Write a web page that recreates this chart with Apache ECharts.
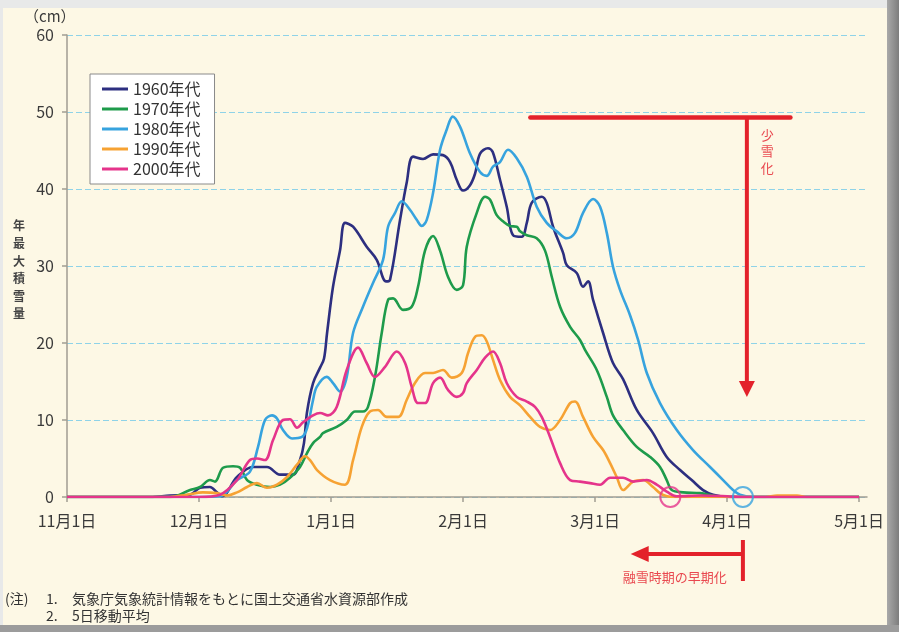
<!DOCTYPE html>
<html><head><meta charset="utf-8">
<script src="https://cdn.jsdelivr.net/npm/echarts@6/dist/echarts.min.js"></script>
<style>
html,body{margin:0;padding:0;background:#e8e8e8}
#wrap{position:relative;width:899px;height:632px;background:#e8e9e9;overflow:hidden}
#rb{position:absolute;right:0;top:0;width:12px;height:632px;background:linear-gradient(to right,#a9a9a9,#7d7d7d)}
#bb{position:absolute;left:0;bottom:0;width:899px;height:7px;background:#9c9c9c}
#panel{position:absolute;left:3px;top:8px;width:884px;height:617px;background:#fdf8e5}
#c{position:absolute;left:0;top:0;width:899px;height:632px}
</style>
</head><body>
<div id="wrap"><div id="rb"></div><div id="bb"></div><div id="panel"></div><div id="c"></div></div>
<script>
// x values: months after 11月1日 (0 = 11/1, 1 = 12/1, ... 6 = 5/1)
const monthLabels = ['11月1日','12月1日','1月1日','2月1日','3月1日','4月1日','5月1日'];
const monthTicks = [0,1,2,3,4,5,6];
const yTicks = [0,10,20,30,40,50,60];
const seriesNames = ['1960年代','1970年代','1980年代','1990年代','2000年代'];
const seriesColors = ['#2d2f80','#1e9b4b','#37a3de','#f6a233','#e5348b'];

const d1960 = [[0,0],[0.629,0],[0.78,0.2],[0.932,0.3],[1.008,1.2],[1.083,1.3],[1.136,0.6],[1.174,0.1],[1.288,2.6],[1.409,3.9],[1.515,3.9],[1.614,2.9],[1.712,2.9],[1.765,4.8],[1.795,7],[1.818,11],[1.864,14.8],[1.917,16.8],[1.947,18],[1.970,21.3],[2.015,27.3],[2.068,32],[2.106,35.6],[2.167,35.1],[2.270,32.5],[2.346,30.8],[2.417,28],[2.447,28.2],[2.523,36],[2.573,40.8],[2.621,44.2],[2.697,43.9],[2.773,44.5],[2.848,44.4],[2.902,43.5],[2.952,41.2],[3.0,39.8],[3.053,40.5],[3.091,42],[3.129,44.6],[3.189,45.3],[3.225,44.8],[3.280,41.2],[3.331,37.7],[3.379,34],[3.445,33.8],[3.483,35.6],[3.520,38.2],[3.596,39],[3.634,38.2],[3.682,35.1],[3.758,31.7],[3.786,30.1],[3.861,29.1],[3.909,27.3],[3.947,28],[3.985,25.6],[4.061,21.3],[4.136,17.4],[4.212,15.3],[4.316,11.3],[4.439,8.3],[4.543,5.2],[4.644,3.5],[4.732,2.2],[4.818,0.9],[4.894,0.3],[5.023,0],[6,0]];
const d1970 = [[0,0],[0.78,0],[0.932,0.9],[1.008,1.3],[1.083,2.2],[1.121,2.0],[1.182,3.8],[1.258,4.0],[1.311,3.8],[1.364,2.2],[1.439,1.6],[1.538,1.3],[1.614,1.6],[1.689,2.5],[1.765,3.9],[1.818,5.7],[1.864,7.0],[1.917,7.8],[1.939,8.3],[2.043,9.1],[2.119,10],[2.182,11.1],[2.242,11.1],[2.280,11.7],[2.333,15.6],[2.384,21.3],[2.432,25.6],[2.470,25.8],[2.545,24.3],[2.611,24.7],[2.659,27.3],[2.712,32],[2.773,33.9],[2.826,32],[2.886,28.6],[2.952,26.9],[3.0,27.5],[3.028,32.5],[3.104,36.9],[3.167,39],[3.205,38.6],[3.255,36.6],[3.303,35.8],[3.356,35.2],[3.407,35.1],[3.432,34.5],[3.483,34],[3.558,33.6],[3.621,32],[3.672,28.6],[3.735,24.7],[3.811,22.1],[3.886,20.4],[3.924,19.1],[4.013,16.5],[4.089,13],[4.136,10.6],[4.212,8.7],[4.316,6.5],[4.417,5.2],[4.492,3.9],[4.543,2.2],[4.581,0.9],[4.667,0.6],[4.795,0.5],[4.922,0.1],[5.023,0],[6,0]];
const d1980 = [[0,0],[1.0,0],[1.159,0.1],[1.288,2.2],[1.386,3.3],[1.447,6.5],[1.5,10],[1.553,10.6],[1.591,10.2],[1.636,8.7],[1.705,7.6],[1.780,7.8],[1.818,8.9],[1.864,12.6],[1.892,14.3],[1.967,15.6],[2.015,14.8],[2.068,13.7],[2.119,15.6],[2.167,21.3],[2.242,24.7],[2.318,27.8],[2.394,30.8],[2.432,35.1],[2.485,36.9],[2.536,38.4],[2.598,37.3],[2.649,36],[2.687,35.2],[2.725,36],[2.773,39.5],[2.826,45.1],[2.876,47.7],[2.922,49.4],[2.977,48.1],[3.053,44.6],[3.129,42.2],[3.180,41.7],[3.227,42.9],[3.280,43.5],[3.341,45.1],[3.407,44],[3.483,41.6],[3.558,37.7],[3.634,35.6],[3.710,34.5],[3.786,33.6],[3.848,34.3],[3.909,36.9],[3.985,38.7],[4.038,37.7],[4.089,34.3],[4.136,29.9],[4.189,26.9],[4.265,23.6],[4.326,20.4],[4.392,16.1],[4.492,12.2],[4.619,8.7],[4.742,6.1],[4.871,3.9],[4.970,2.2],[5.045,0.9],[5.098,0.3],[5.2,0],[6,0]];
const d1990 = [[0,0],[0.78,0],[0.909,0.3],[1.030,0.6],[1.136,0.5],[1.212,0.2],[1.288,0.6],[1.364,1.3],[1.439,1.8],[1.515,1.2],[1.591,1.6],[1.667,2.6],[1.742,4.2],[1.803,5.3],[1.841,4.8],[1.894,3.5],[1.992,2.2],[2.106,1.6],[2.167,4.8],[2.233,9.1],[2.295,11.1],[2.356,11.3],[2.422,10.4],[2.508,10.4],[2.573,12.6],[2.636,14.8],[2.712,16.1],[2.773,16.1],[2.848,16.5],[2.914,15.5],[2.990,16.1],[3.038,18.7],[3.091,20.8],[3.142,21],[3.180,20.2],[3.227,17.8],[3.280,15.2],[3.356,13],[3.432,11.9],[3.508,10.4],[3.583,9.1],[3.659,8.7],[3.735,10],[3.811,12.2],[3.848,12.4],[3.909,10.4],[3.985,7.8],[4.061,6.1],[4.114,4.4],[4.164,2.6],[4.212,0.9],[4.288,2.0],[4.364,2.2],[4.439,1.3],[4.492,0.5],[4.545,0.1],[4.6,0],[5.288,0],[5.379,0.2],[5.530,0.2],[5.6,0],[6,0]];
const d2000 = [[0,0],[1.0,0],[1.159,0.3],[1.288,2.2],[1.386,4.8],[1.439,5.0],[1.5,4.8],[1.561,7.4],[1.636,10],[1.689,10.1],[1.742,9.0],[1.788,9.7],[1.864,10.6],[1.917,10.9],[1.977,10.6],[2.043,11.7],[2.119,16.5],[2.205,19.4],[2.270,17.4],[2.333,15.6],[2.409,16.9],[2.498,18.9],[2.561,17.4],[2.611,14.3],[2.659,12.2],[2.712,12.2],[2.773,14.8],[2.826,15.5],[2.886,13.9],[2.952,13],[3.0,13.5],[3.028,14.8],[3.104,16.5],[3.167,18.1],[3.227,18.9],[3.280,17.4],[3.331,14.8],[3.407,13],[3.483,12.4],[3.545,11.7],[3.596,10.4],[3.659,7.8],[3.735,4.4],[3.811,2.2],[3.886,2.0],[3.962,1.8],[4.038,1.6],[4.114,2.5],[4.212,2.5],[4.288,2.0],[4.392,2.2],[4.467,1.6],[4.543,0.7],[4.619,0.1],[4.8,0.2],[5.0,0.1],[5.1,0],[6,0]];
const seriesData = [d1960,d1970,d1980,d1990,d2000];

// end-of-snow markers (circles on the axis) : 2000年代 and 1980年代
const meltEnds = [[4.57,0],[5.12,0]];
const meltColors = ['#e5348b','#37a3de'];

// annotation anchors (in data units)
const lessSnowLevel = 49.3, lessSnowFrom = 3.51, lessSnowTo = 5.48, lessSnowX = 5.15, lessSnowArrowTo = 13;
const earlyMeltFrom = 5.12, earlyMeltTo = 4.27;

const FONT = '"Noto Sans CJK JP","Noto Sans",sans-serif';
const RED = '#e3222b', RED_T = '#e9484f';

const chart = echarts.init(document.getElementById('c'), null, {renderer:'canvas'});
const series = seriesNames.map((n,i)=>({
  name:n, type:'line', data:seriesData[i], smooth:0.35, showSymbol:false, symbol:'none',
  lineStyle:{width:2.6,color:seriesColors[i]}, itemStyle:{color:seriesColors[i]}, z:2+i, silent:true
}));
series.push({
  type:'scatter', data:meltEnds.map((p,i)=>({value:p,itemStyle:{borderColor:meltColors[i]}})),
  symbol:'circle', symbolSize:20, itemStyle:{color:'rgba(0,0,0,0)',borderWidth:2}, z:10, silent:true
});

chart.setOption({
  backgroundColor:'transparent',
  animation:false,
  textStyle:{fontFamily:FONT},
  grid:{left:67,top:35,right:32,bottom:135,containLabel:false,outerBoundsMode:'none'},
  legend:{
    data:seriesNames, orient:'vertical', left:90, top:74, icon:'rect', itemWidth:26, itemHeight:3,
    itemGap:4, padding:[7,14,7,12], backgroundColor:'#ffffff', borderColor:'#8a8a8a', borderWidth:1,
    textStyle:{fontSize:16,color:'#333',fontFamily:FONT}, selectedMode:false
  },
  xAxis:{
    type:'value', min:0, max:6.06, interval:1,
    axisLine:{show:true,lineStyle:{color:'#a19d92',width:1.5}},
    axisTick:{show:true,length:5,lineStyle:{color:'#a19d92',width:1.5},customValues:monthTicks},
    axisLabel:{customValues:monthTicks,formatter:v=>monthLabels[Math.round(v)]||'',fontSize:16,color:'#3a3a3a',margin:16,fontFamily:FONT},
    splitLine:{show:false}
  },
  yAxis:{
    type:'value', min:0, max:60, interval:10,
    axisLine:{show:true,lineStyle:{color:'#a19d92',width:1.5}},
    axisTick:{show:true,length:5,lineStyle:{color:'#a19d92',width:1.5}},
    axisLabel:{fontSize:16,color:'#3a3a3a',margin:13,fontFamily:FONT},
    splitLine:{show:true,lineStyle:{color:'#8fd3e8',type:[6,3],width:1.2}}
  },
  series:series
});

const P = p => chart.convertToPixel({gridIndex:0}, p);
const a1 = P([lessSnowFrom,lessSnowLevel]), a2 = P([lessSnowTo,lessSnowLevel]);
const av = P([lessSnowX,lessSnowLevel]), at = P([lessSnowX,lessSnowArrowTo]);
const axisY = P([0,0])[1];
const b1 = P([earlyMeltFrom,0]), b2 = P([earlyMeltTo,0]);
const bTextX = (b1[0]+b2[0])/2 - 12;
const arrowY = axisY + 57;

chart.setOption({graphic:[
  {type:'text',left:24,top:9,style:{text:'（cm）',font:'15px '+FONT,fill:'#3a3a3a'}},
  {type:'text',left:13,top:217,style:{text:'年\n最\n大\n積\n雪\n量',font:'bold 12px '+FONT,fill:'#444',lineHeight:17.6}},
  {type:'line',shape:{x1:a1[0],y1:a1[1],x2:a2[0],y2:a2[1]},style:{stroke:RED,lineWidth:4.5,lineCap:'round'}},
  {type:'line',shape:{x1:av[0],y1:av[1],x2:at[0],y2:at[1]-12},style:{stroke:RED,lineWidth:4}},
  {type:'polygon',shape:{points:[[at[0]-8,at[1]-16],[at[0]+8,at[1]-16],[at[0],at[1]]]},style:{fill:RED}},
  {type:'text',x:av[0]+14,y:av[1]+9,style:{text:'少\n雪\n化',font:'13px '+FONT,fill:RED_T,lineHeight:16.5}},
  {type:'line',shape:{x1:b1[0],y1:axisY+43,x2:b1[0],y2:axisY+84},style:{stroke:RED,lineWidth:4}},
  {type:'line',shape:{x1:b1[0],y1:arrowY,x2:b2[0]+14,y2:arrowY},style:{stroke:RED,lineWidth:4}},
  {type:'polygon',shape:{points:[[b2[0],arrowY],[b2[0]+18,arrowY-8],[b2[0]+18,arrowY+8]]},style:{fill:RED}},
  {type:'text',x:bTextX,y:axisY+80,style:{text:'融雪時期の早期化',font:'13px '+FONT,fill:RED_T,textAlign:'center',textVerticalAlign:'middle'}},
  {type:'text',left:5,top:592,style:{text:'(注)',font:'14px '+FONT,fill:'#333'}},
  {type:'text',left:46,top:592,style:{text:'1.',font:'14px '+FONT,fill:'#333'}},
  {type:'text',left:72,top:592,style:{text:'気象庁気象統計情報をもとに国土交通省水資源部作成',font:'14px '+FONT,fill:'#333'}},
  {type:'text',left:46,top:609,style:{text:'2.',font:'14px '+FONT,fill:'#333'}},
  {type:'text',left:72,top:609,style:{text:'5日移動平均',font:'14px '+FONT,fill:'#333'}}
]});
</script>
</body></html>
